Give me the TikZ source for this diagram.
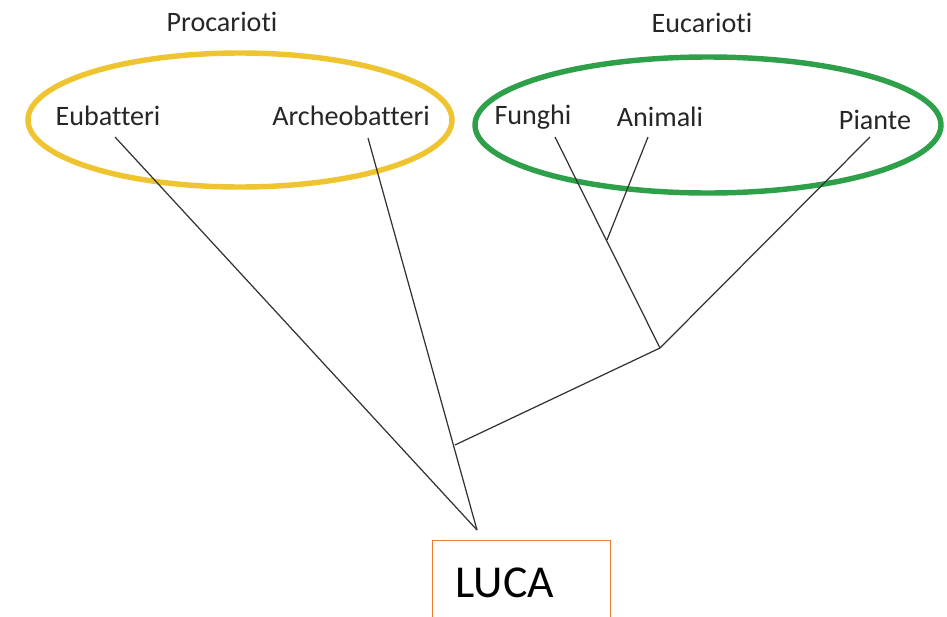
\documentclass[tikz,border=0pt]{standalone}
\usepackage{fontspec}
\setmainfont[Ligatures={NoCommon}]{Carlito}
\definecolor{procyellow}{RGB}{238,196,48}
\definecolor{eukgreen}{RGB}{46,160,74}
\definecolor{lucaorange}{RGB}{237,125,49}
\definecolor{branchgray}{RGB}{50,50,50}
\tikzset{
  taxon/.style={font=\fontsize{16}{19}\selectfont, text=black!85, inner sep=1pt},
  grouplabel/.style={font=\fontsize{16}{19}\selectfont, text=black!85, inner sep=1pt},
  groupring/.style={line width=3.1pt},
  branch/.style={draw=branchgray, line width=0.7pt},
  lucabox/.style={draw=lucaorange, line width=0.8pt, rectangle, anchor=north west,
    minimum height=1.7cm, text width=2.64cm, inner xsep=0.46cm, align=left,
    font=\fontsize{26}{30}\selectfont}
}
\begin{document}
\begin{tikzpicture}[x=0.02cm, y=-0.02cm]
\useasboundingbox (0,0) rectangle (947,616);
% group rings
\draw[groupring, draw=procyellow] (240,120) ellipse [x radius=212, y radius=67];
\draw[groupring, draw=eukgreen] (708,125) ellipse [x radius=233, y radius=68];
% labels
\node[grouplabel] (procarioti) at (222,22) {Procarioti};
\node[grouplabel] (eucarioti) at (702,23) {Eucarioti};
\node[taxon] (eubatteri) at (108,116) {Eubatteri};
\node[taxon] (archeo) at (351,116) {Archeobatteri};
\node[taxon] (funghi) at (533,117) {Funghi};
\node[taxon] (animali) at (660,117) {Animali};
\node[taxon] (piante) at (875,120) {Piante};
% branch ends and joints
\coordinate (eubS) at (115,137);
\coordinate (arcS) at (368,138);
\coordinate (funS) at (555,137);
\coordinate (aniS) at (648,137);
\coordinate (piaS) at (870,137);
\coordinate (root) at (477,530);
\coordinate (fajoin) at (607,240);
\coordinate (eukjoin) at (660,348);
\coordinate (pajoin) at (455,445);
% branches
\draw[branch] (eubS) -- (root);
\draw[branch] (arcS) -- (root);
\draw[branch] (funS) -- (eukjoin);
\draw[branch] (aniS) -- (fajoin);
\draw[branch] (piaS) -- (eukjoin);
\draw[branch] (eukjoin) -- (pajoin);
% LUCA
\node[lucabox] (luca) at (432,540) {LUCA};
\end{tikzpicture}
\end{document}
